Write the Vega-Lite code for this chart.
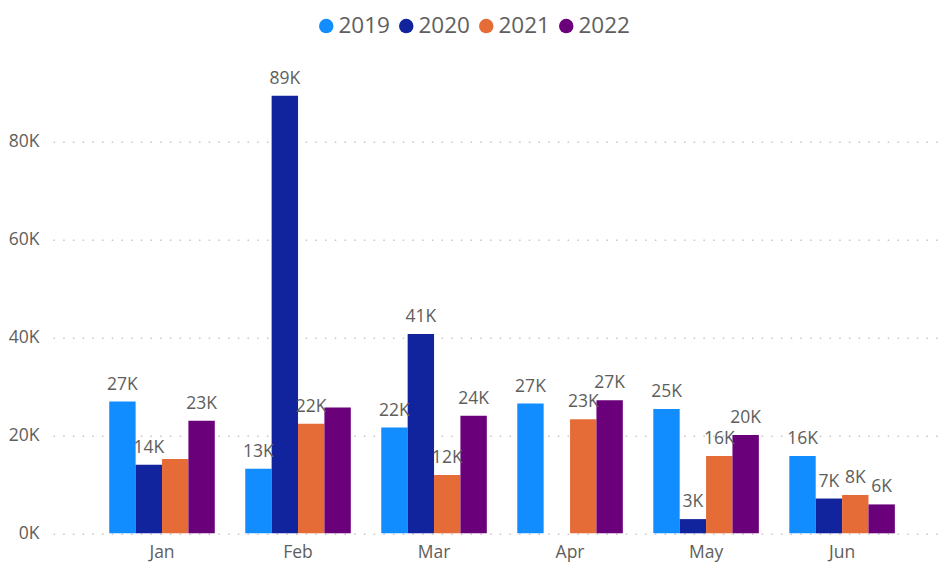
{
  "$schema": "https://vega.github.io/schema/vega-lite/v6.json",
  "autosize": {"type": "none"},
  "padding": {"left": 53, "top": 92.7, "right": 3, "bottom": 30.7},
  "width": 889,
  "height": 440.6,
  "background": "white",
  "config": {
    "view": {"stroke": null},
    "font": "Open Sans",
    "axis": {"labelFont": "Open Sans", "labelColor": "#605E5C", "labelFontSize": 17.5},
    "legend": {"labelFont": "Open Sans"}
  },
  "data": {
    "values": [
      {"month": "Jan", "year": "2019", "value": 26900, "label": "27K"},
      {"month": "Jan", "year": "2020", "value": 14000, "label": "14K"},
      {"month": "Jan", "year": "2021", "value": 15200, "label": ""},
      {"month": "Jan", "year": "2022", "value": 23000, "label": "23K"},
      {"month": "Feb", "year": "2019", "value": 13200, "label": "13K"},
      {"month": "Feb", "year": "2020", "value": 89400, "label": "89K"},
      {"month": "Feb", "year": "2021", "value": 22400, "label": "22K"},
      {"month": "Feb", "year": "2022", "value": 25700, "label": ""},
      {"month": "Mar", "year": "2019", "value": 21600, "label": "22K"},
      {"month": "Mar", "year": "2020", "value": 40700, "label": "41K"},
      {"month": "Mar", "year": "2021", "value": 11900, "label": "12K"},
      {"month": "Mar", "year": "2022", "value": 24000, "label": "24K"},
      {"month": "Apr", "year": "2019", "value": 26500, "label": "27K"},
      {"month": "Apr", "year": "2021", "value": 23300, "label": "23K"},
      {"month": "Apr", "year": "2022", "value": 27200, "label": "27K"},
      {"month": "May", "year": "2019", "value": 25400, "label": "25K"},
      {"month": "May", "year": "2020", "value": 2900, "label": "3K"},
      {"month": "May", "year": "2021", "value": 15800, "label": "16K"},
      {"month": "May", "year": "2022", "value": 20100, "label": "20K"},
      {"month": "Jun", "year": "2019", "value": 15800, "label": "16K"},
      {"month": "Jun", "year": "2020", "value": 7100, "label": "7K"},
      {"month": "Jun", "year": "2021", "value": 7800, "label": "8K"},
      {"month": "Jun", "year": "2022", "value": 5900, "label": "6K"}
    ]
  },
  "encoding": {
    "x": {
      "field": "month",
      "type": "nominal",
      "sort": ["Jan", "Feb", "Mar", "Apr", "May", "Jun"],
      "scale": {"paddingInner": 0.224, "paddingOuter": 0.38, "align": 0.544},
      "axis": {"title": null, "domain": false, "ticks": false, "labelPadding": 10, "labelAngle": 0, "grid": false}
    },
    "xOffset": {
      "field": "year",
      "type": "nominal",
      "sort": ["2019", "2020", "2021", "2022"],
      "scale": {"domain": ["2019", "2020", "2021", "2022"], "paddingInner": 0, "paddingOuter": 0}
    },
    "y": {
      "field": "value",
      "type": "quantitative",
      "scale": {"domain": [0, 90000], "nice": false},
      "axis": {
        "title": null,
        "domain": false,
        "ticks": false,
        "values": [0, 20000, 40000, 60000, 80000],
        "labelExpr": "(datum.value / 1000) + 'K'",
        "labelPadding": 14,
        "grid": true,
        "gridColor": "#C8C6C4",
        "gridDash": [1.5, 8.2],
        "gridWidth": 1.5
      }
    }
  },
  "layer": [
    {
      "mark": {"type": "bar"},
      "encoding": {
        "color": {
          "field": "year",
          "type": "nominal",
          "scale": {"domain": ["2019", "2020", "2021", "2022"], "range": ["#118DFF", "#12239E", "#E66C37", "#6B007B"]},
          "legend": {
            "title": null,
            "orient": "none",
            "direction": "horizontal",
            "legendX": 262,
            "legendY": -78,
            "padding": 0,
            "symbolType": "circle",
            "symbolSize": 210,
            "symbolStrokeWidth": 0,
            "labelFontSize": 22.5,
            "labelColor": "#605E5C",
            "labelOffset": 1,
            "columnPadding": 5
          }
        }
      }
    },
    {
      "mark": {"type": "text", "baseline": "alphabetic", "align": "center", "dy": -12, "fontSize": 17.5, "color": "#605E5C", "font": "Open Sans"},
      "encoding": {
        "text": {"field": "label", "type": "nominal"}
      }
    }
  ]
}
